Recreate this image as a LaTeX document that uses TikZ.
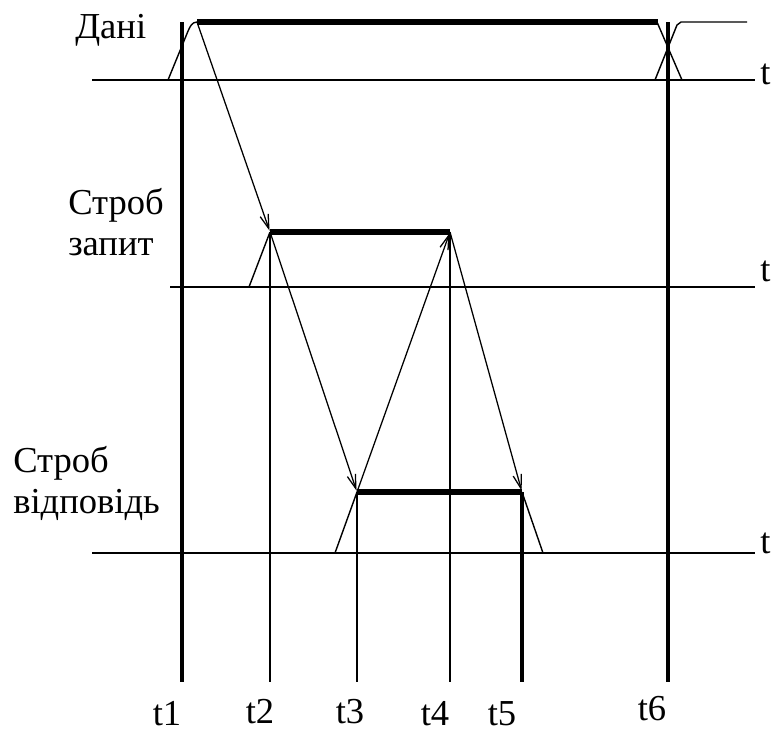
\documentclass[tikz,border=0pt]{standalone}
\usepackage{fontspec}
\setmainfont{Liberation Serif}
\usepackage{tikz}
\usetikzlibrary{arrows.meta}

\begin{document}
\begin{tikzpicture}[x=0.025cm, y=-0.025cm,
  axis/.style={line width=1.1pt},
  sig/.style={line width=1pt, line join=round},
  hold/.style={line width=4pt},
  thinv/.style={line width=1.3pt},
  thickv/.style={line width=2.6pt},
  link/.style={line width=0.9pt, -{Straight Barb[length=10pt,width=6pt]}, shorten >=1pt},
  lbl/.style={font=\fontsize{26}{28.5}\selectfont, inner sep=0pt, align=left}
]
\useasboundingbox (0,0) rectangle (772,733);

% corners of the pulses
\coordinate (dA) at (197,22);
\coordinate (qA) at (270,232);
\coordinate (qB) at (450,232);
\coordinate (rA) at (357,492);
\coordinate (rB) at (522,492);
\coordinate (dT) at (182,22);
\coordinate (dE) at (668,22);
\coordinate (bot) at (0,682);

% time axes
\draw[axis] (92,80) -- (755,80);
\draw[axis] (170,287) -- (755,287);
\draw[axis] (92,553) -- (755,553);
\node[lbl, anchor=base west] (ax1) at (760,84) {t};
\node[lbl, anchor=base west] (ax2) at (760,281) {t};
\node[lbl, anchor=base west] (ax3) at (760,553) {t};

% vertical time marks
\draw[thickv] (dT) -- (dT |- bot);
\draw[thinv] (qA) -- (qA |- bot);
\draw[thinv] (rA) -- (rA |- bot);
\draw[thinv] (qB) -- (qB |- bot);
\draw[thickv] (rB) -- (rB |- bot);
\draw[thickv] (dE) -- (dE |- bot);

% Дані
\node[lbl, anchor=base west] (dani) at (75,38) {Дані};
\draw[sig] (168,80) -- (186,36) .. controls (190,26) and (192,22) .. (dA);
\draw[hold] (dA) -- (658,22);
\draw[sig] (657,22) -- (682,80);
\draw[sig] (655,80) -- (677,25) -- (681,22) -- (747,22);

% Строб запит
\node[lbl, anchor=base west] (zapyt) at (68,255) {Строб\\запит};
\draw[sig] (249,287) -- (qA);
\draw[hold] (qA) -- (qB);

% Строб відповідь
\node[lbl, anchor=base west] (vidp) at (13,513) {Строб\\відповідь};
\draw[sig] (335,553) -- (rA);
\draw[hold] (rA) -- (rB);
\draw[sig] (rB) -- (543,553);

% cause and effect
\draw[link] (dA) -- (qA);
\draw[link] (qA) -- (rA);
\draw[link] (rA) -- (qB);
\draw[link] (qB) -- (rB);

% moments
\node[lbl, anchor=base] (n1) at (167,725) {t1};
\node[lbl, anchor=base] (n2) at (260,723) {t2};
\node[lbl, anchor=base] (n3) at (350,723) {t3};
\node[lbl, anchor=base] (n4) at (435,725) {t4};
\node[lbl, anchor=base] (n5) at (502,725) {t5};
\node[lbl, anchor=base] (n6) at (652,720) {t6};
\end{tikzpicture}
\end{document}
